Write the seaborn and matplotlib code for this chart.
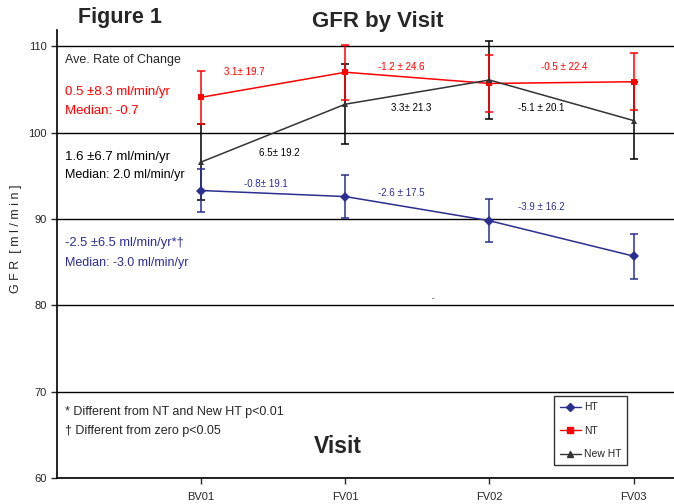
import pandas as pd
import matplotlib
matplotlib.use('Agg')
import matplotlib.pyplot as plt
import seaborn as sns
from matplotlib.lines import Line2D

# data
visits = ['BV01', 'FV01', 'FV02', 'FV03']
ht_mean = [93.3, 92.6, 89.8, 85.7]
ht_err = [2.5, 2.5, 2.5, 2.6]
nt_mean = [104.1, 107.0, 105.7, 105.9]
nt_err = [3.1, 3.2, 3.3, 3.3]
newht_mean = [96.6, 103.3, 106.1, 101.4]
newht_err = [4.4, 4.6, 4.5, 4.5]

# slope labels between visits
ht_slopes = ['-0.8\u00b1 19.1', '-2.6 \u00b1 17.5', '-3.9 \u00b1 16.2']
nt_slopes = ['3.1\u00b1 19.7', '-1.2 \u00b1 24.6', '-0.5 \u00b1 22.4']
newht_slopes = ['6.5\u00b1 19.2', '3.3\u00b1 21.3', '-5.1 \u00b1 20.1']

sns.set_style('white')
plt.rcParams['font.family'] = ['Liberation Sans', 'DejaVu Sans']

blue = '#2B2F8F'
red = '#FF0000'
grey = '#333333'

rows = []
for name, means in [('HT', ht_mean), ('NT', nt_mean), ('New HT', newht_mean)]:
    for i, v in enumerate(visits):
        rows.append({'group': name, 'pos': i + 1, 'GFR': means[i]})
df = pd.DataFrame(rows)

fig = plt.figure(figsize=(6.74, 5.04), dpi=100)
ax = fig.add_axes([0.0846, 0.0516, 0.9154, 0.889])

palette = {'HT': blue, 'NT': red, 'New HT': grey}
markers = {'HT': 'D', 'NT': 's', 'New HT': '^'}
sns.lineplot(data=df, x='pos', y='GFR', hue='group', style='group',
             palette=palette, markers=markers, dashes=False, markersize=5,
             markeredgewidth=0, linewidth=1.1, ax=ax, legend=False, zorder=3)

pos = [1, 2, 3, 4]
ax.errorbar(pos, newht_mean, yerr=newht_err, fmt='none', ecolor='black',
            elinewidth=1.1, capsize=3, capthick=1.1, zorder=2)
ax.errorbar(pos, nt_mean, yerr=nt_err, fmt='none', ecolor=red,
            elinewidth=1.1, capsize=3, capthick=1.1, zorder=2)
ax.errorbar(pos, ht_mean, yerr=ht_err, fmt='none', ecolor=blue,
            elinewidth=1.1, capsize=3, capthick=1.1, zorder=2)

ax.set_xlim(0, 4.28)
ax.set_ylim(60, 111.9)
ax.set_xticks(pos)
ax.set_xticklabels(visits, fontsize=8)
ax.set_yticks([60, 70, 80, 90, 100, 110])
ax.tick_params(axis='y', labelsize=8, length=4, width=1, direction='out', left=True)
ax.tick_params(axis='x', length=4, width=1, direction='out', bottom=True, pad=6)
ax.yaxis.grid(True, color='black', linewidth=1)
ax.set_axisbelow(True)
for s in ['top', 'right']:
    ax.spines[s].set_visible(False)
for s in ['left', 'bottom']:
    ax.spines[s].set_color('black')
    ax.spines[s].set_linewidth(1.2)
ax.set_xlabel('')
ax.set_ylabel('G F R  [ m l / m i n ]', fontsize=9)
ax.yaxis.set_label_coords(-0.057, 0.535)

# slope labels
nt_xy = [(1.3, 107.0), (2.39, 107.6), (3.52, 107.6)]
newht_xy = [(1.54, 97.7), (2.46, 102.8), (3.36, 102.8)]
ht_xy = [(1.45, 94.0), (2.39, 93.0), (3.36, 91.4)]
for i in range(3):
    ax.text(*nt_xy[i], nt_slopes[i], color=red, fontsize=7, ha='center', va='center')
    ax.text(*newht_xy[i], newht_slopes[i], color='black', fontsize=7, ha='center', va='center')
    ax.text(*ht_xy[i], ht_slopes[i], color=blue, fontsize=7, ha='center', va='center')

# rate of change block on the left
tx = 0.057
ax.text(tx, 108.4, 'Ave. Rate of Change', fontsize=9, va='center')
ax.text(tx, 104.7, '0.5 \u00b18.3 ml/min/yr', fontsize=9.5, color=red, va='center')
ax.text(tx, 102.5, 'Median: -0.7', fontsize=9.5, color=red, va='center')
ax.text(tx, 97.2, '1.6 \u00b16.7 ml/min/yr', fontsize=9.5, color='black', va='center')
ax.text(tx, 95.1, 'Median: 2.0 ml/min/yr', fontsize=9, color='black', va='center')
ax.text(tx, 87.2, '-2.5 \u00b16.5 ml/min/yr*\u2020', fontsize=9.3, color=blue, va='center')
ax.text(tx, 84.9, 'Median: -3.0 ml/min/yr', fontsize=9, color=blue, va='center')
ax.text(tx, 67.6, '* Different from NT and New HT p<0.01', fontsize=9, va='center')
ax.text(tx, 65.4, '\u2020 Different from zero p<0.05', fontsize=9, va='center')
ax.text(2.61, 80.8, '-', fontsize=6, ha='center', va='center')

ax.text(1.95, 63.6, 'Visit', fontsize=16.5, fontweight='bold', ha='center', va='center')

# legend
handles = [Line2D([], [], color=blue, marker='D', markersize=4, lw=1),
           Line2D([], [], color=red, marker='s', markersize=4, lw=1),
           Line2D([], [], color=grey, marker='^', markersize=4, lw=1)]
leg = ax.legend(handles, ['HT', 'NT', 'New HT'], loc='lower right',
                bbox_to_anchor=(0.924, 0.029), borderaxespad=0, fontsize=7.5,
                frameon=True, fancybox=False, edgecolor='black', handlelength=2.0,
                handletextpad=0.3, labelspacing=1.3, borderpad=0.55)
leg.get_frame().set_linewidth(1)

fig.text(0.178, 0.965, 'Figure 1', fontsize=15.5, fontweight='bold', ha='center', va='center')
fig.text(0.56, 0.958, 'GFR by Visit', fontsize=16, fontweight='bold', ha='center', va='center')

fig.savefig('out.png', dpi=100)
